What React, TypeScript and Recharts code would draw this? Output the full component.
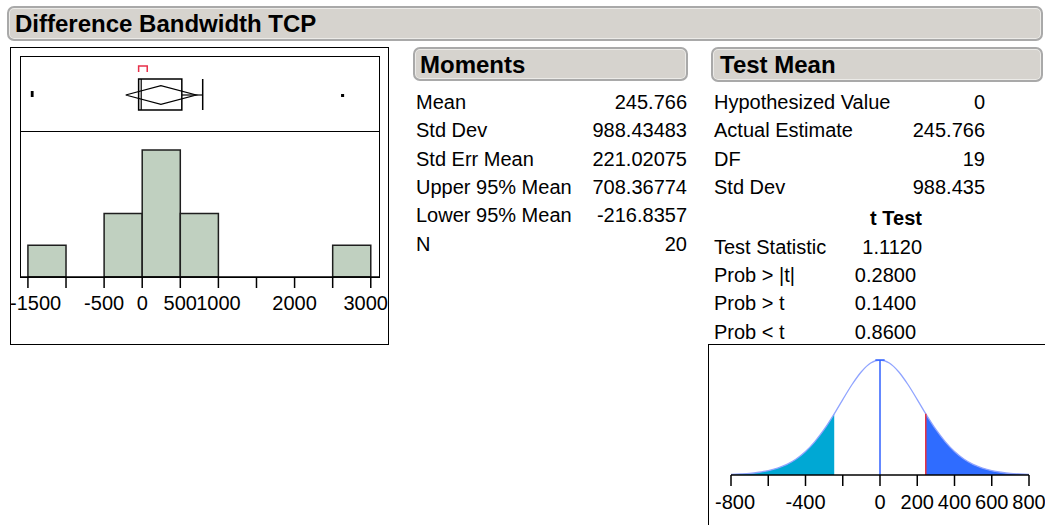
import React from "react";
import { ComposedChart, Line, Area, XAxis, YAxis, ReferenceArea, ReferenceLine, Scatter } from "recharts";

const FONT = '"Liberation Sans", Arial, sans-serif';

// report text
const reportTitle = "Difference Bandwidth TCP";
const momentLabels = ["Mean", "Std Dev", "Std Err Mean", "Upper 95% Mean", "Lower 95% Mean", "N"];
const momentValues = ["245.766", "988.43483", "221.02075", "708.36774", "-216.8357", "20"];
const testLabels = ["Hypothesized Value", "Actual Estimate", "DF", "Std Dev"];
const testValues = ["0", "245.766", "19", "988.435"];
const tTestLabels = ["Test Statistic", "Prob > |t|", "Prob > t", "Prob < t"];
const tTestValues = ["1.1120", "0.2800", "0.1400", "0.8600"];

// histogram bins (width 500)
const binStart = [-1500, -500, 0, 500, 2500];
const binEnd = [-1000, 0, 500, 1000, 3000];
const binCount = [2, 4, 8, 4, 2];
const histTicks = [-1500, -1000, -500, 0, 500, 1000, 1500, 2000, 2500, 3000];
const histTickLabels = [-1500, -500, 0, 500, 1000, 2000, 3000];

// box plot
const q1 = -47;
const median = -13;
const q3 = 520;
const upperWhisker = 794;
const mean = 245.766;
const lower95 = -216.8357;
const upper95 = 708.36774;
const shortestHalf = [-47, 66];
const outlierX = [-1444, -1444, 2631, 2631];
const outlierY = [2.5, -0.5, -0.5, -0.5];

// t distribution (relative density) under H0
const tX = [-800, -750, -700, -650, -600, -550, -500, -450, -400, -350, -300, -245.766, -200, -150, -100, -50, 0,
  50, 100, 150, 200, 245.766, 300, 350, 400, 450, 500, 550, 600, 650, 700, 750, 800];
const tY = [0.005, 0.009, 0.014, 0.024, 0.038, 0.06, 0.092, 0.139, 0.204, 0.29, 0.396, 0.532, 0.656, 0.787, 0.898, 0.974, 1,
  0.974, 0.898, 0.787, 0.656, 0.532, 0.396, 0.29, 0.204, 0.139, 0.092, 0.06, 0.038, 0.024, 0.014, 0.009, 0.005];
const tTicks = [-800, -600, -400, -200, 0, 200, 400, 600, 800];
const tTickLabels = [-800, -400, 0, 200, 400, 600, 800];

const histDomain = [-1604, 3108];

function HeaderBar({ left, top, width, height, text, textLeft }) {
  return (
    <>
      <div style={{
        position: "absolute", left, top, width, height, boxSizing: "border-box",
        background: "#d6d3ce", border: "2px solid #a9a9a9", borderRadius: 7,
        boxShadow: "inset 0 0 0 1px #ecebe8",
      }} />
      <div style={{
        position: "absolute", left: textLeft, top: top + height / 2 - 11.5, fontSize: 24, lineHeight: "24px",
        fontWeight: "bold", whiteSpace: "nowrap",
      }}>{text}</div>
    </>
  );
}

function Row({ left, top, width, label, value, bold }) {
  return (
    <div style={{
      position: "absolute", left, top, width, height: 28, lineHeight: "28px", fontSize: 20,
      display: "flex", justifyContent: "space-between", whiteSpace: "nowrap", fontWeight: bold ? "bold" : "normal",
    }}>
      <span>{label}</span>
      <span>{value}</span>
    </div>
  );
}

// JMP keeps the end labels inside the frame
function makeTick(labels, minX, maxX, gap) {
  return function AxisTick(props) {
    const { x, y, payload } = props;
    const v = payload.value;
    if (!labels.includes(v)) return null;
    const s = String(v);
    const w = s.length * 11.1 - (s[0] === "-" ? 4.4 : 0);
    let tx = x;
    let anchor = "middle";
    if (x - w / 2 < minX) { tx = minX; anchor = "start"; }
    else if (x + w / 2 > maxX) { tx = maxX; anchor = "end"; }
    return (
      <text x={tx} y={y + gap} dy="0.71em" textAnchor={anchor} fontSize={20} fill="#000" fontFamily={FONT}>{s}</text>
    );
  };
}

export default function App() {
  const histData = binStart.map((s, i) => ({ x: (s + binEnd[i]) / 2, y: binCount[i] }));
  const diamond = [
    { x: lower95, y: 0 }, { x: mean, y: 9.3 }, { x: upper95, y: 0 }, { x: mean, y: -9.3 }, { x: lower95, y: 0 },
  ];
  const bracket = [
    { x: shortestHalf[0], y: 23 }, { x: shortestHalf[0], y: 29 }, { x: shortestHalf[1], y: 29 }, { x: shortestHalf[1], y: 23 },
  ];
  const outliers = outlierX.map((x, i) => ({ x, y: outlierY[i] }));
  const tData = tX.map((x, i) => ({
    x,
    y: tY[i],
    left: x <= -mean ? tY[i] : null,
    right: x >= mean ? tY[i] : null,
  }));
  const estHeight = tY[tX.indexOf(mean)];

  return (
    <div style={{
      position: "absolute", left: 0, top: 0, width: 1045, height: 525, overflow: "hidden",
      background: "#fff", fontFamily: FONT, color: "#000",
    }}>
      <HeaderBar left={7} top={6} width={1036} height={35} text={reportTitle} textLeft={15} />

      {/* distribution panel */}
      <div style={{ position: "absolute", left: 10, top: 47, width: 379, height: 298, border: "1px solid #000", boxSizing: "border-box" }} />
      <div style={{ position: "absolute", left: 20, top: 56, width: 360, height: 222, border: "1px solid #000", boxSizing: "border-box" }} />
      <div style={{ position: "absolute", left: 20, top: 131, width: 360, height: 1, background: "#000" }} />

      <div style={{ position: "absolute", left: 0, top: 56 }}>
        <ComposedChart width={400} height={75} margin={{ top: 0, right: 21, bottom: 0, left: 20 }}>
          <XAxis type="number" dataKey="x" domain={histDomain} hide allowDataOverflow />
          <YAxis type="number" domain={[-36, 39]} hide allowDataOverflow />
          <ReferenceArea x1={q1} x2={q3} y1={-15} y2={16} fill="none" stroke="#000" strokeWidth={1.5} fillOpacity={0} />
          <ReferenceLine segment={[{ x: median, y: -15 }, { x: median, y: 16 }]} stroke="#000" strokeWidth={1.2} />
          <ReferenceLine segment={[{ x: q3, y: 0 }, { x: upperWhisker, y: 0 }]} stroke="#000" strokeWidth={1.2} />
          <ReferenceLine segment={[{ x: upperWhisker, y: -15 }, { x: upperWhisker, y: 16 }]} stroke="#000" strokeWidth={1.5} />
          <Line data={diamond} dataKey="y" type="linear" stroke="#000" strokeWidth={1.2} dot={false} isAnimationActive={false} />
          <Line data={bracket} dataKey="y" type="linear" stroke="#e8304a" strokeWidth={1.5} dot={false} isAnimationActive={false} />
          <Scatter data={outliers} dataKey="y" isAnimationActive={false}
            shape={(p) => <rect x={p.cx - 1.4} y={p.cy - 1.5} width={2.8} height={3} fill="#000" />} />
        </ComposedChart>
      </div>

      <div style={{ position: "absolute", left: 0, top: 131 }}>
        <ComposedChart width={400} height={190} data={histData} margin={{ top: 0, right: 21, bottom: 0, left: 20 }}>
          <XAxis type="number" dataKey="x" domain={histDomain} ticks={histTicks} interval={0} height={44}
            tickSize={11} allowDataOverflow
            axisLine={{ stroke: "#000", strokeWidth: 1.5 }} tickLine={{ stroke: "#000", strokeWidth: 1.5 }}
            tick={makeTick(histTickLabels, 10, 388, 6)} />
          <YAxis type="number" domain={[0, 9.2]} hide allowDataOverflow />
          {binStart.map((s, i) => (
            <ReferenceArea key={s} x1={s} x2={binEnd[i]} y1={0} y2={binCount[i]}
              fill="#c0d0c0" fillOpacity={1} stroke="#1e1e1e" strokeWidth={1.5} />
          ))}
          <Line dataKey="y" stroke="none" dot={false} isAnimationActive={false} />
        </ComposedChart>
      </div>

      {/* moments */}
      <HeaderBar left={413} top={47} width={275} height={34} text="Moments" textLeft={420} />
      {momentLabels.map((l, i) => (
        <Row key={l} left={416} top={88 + i * 28.3} width={271} label={l} value={momentValues[i]} />
      ))}

      {/* test mean */}
      <HeaderBar left={711} top={47} width={332} height={35} text="Test Mean" textLeft={720} />
      {testLabels.map((l, i) => (
        <Row key={l} left={714} top={88 + i * 28.3} width={271} label={l} value={testValues[i]} />
      ))}
      <div style={{ position: "absolute", left: 846, top: 204, width: 100, textAlign: "center", fontSize: 20, lineHeight: "28px", fontWeight: "bold" }}>t Test</div>
      {tTestLabels.map((l, i) => (
        <Row key={l} left={714} top={233 + i * 28.2} width={i === 0 ? 208 : 202} label={l} value={tTestValues[i]} />
      ))}

      {/* t distribution plot */}
      <div style={{ position: "absolute", left: 708, top: 344, width: 400, height: 200, borderTop: "1.5px solid #000", borderLeft: "1.5px solid #000" }} />
      <div style={{ position: "absolute", left: 700, top: 345 }}>
        <ComposedChart width={345} height={180} data={tData} margin={{ top: 15, right: 16, bottom: 0, left: 31 }}>
          <XAxis type="number" dataKey="x" domain={[-800, 800]} ticks={tTicks} interval={0} height={50}
            tickSize={11} allowDataOverflow
            axisLine={{ stroke: "#000", strokeWidth: 1.5 }} tickLine={{ stroke: "#000", strokeWidth: 1.5 }}
            tick={makeTick(tTickLabels, 15, 400, 7)} />
          <YAxis type="number" domain={[0, 1]} hide allowDataOverflow />
          <Area dataKey="left" type="monotone" fill="#00a8d4" fillOpacity={1} stroke="none" isAnimationActive={false} />
          <Area dataKey="right" type="monotone" fill="#2f6cff" fillOpacity={1} stroke="none" isAnimationActive={false} />
          <Line dataKey="y" type="monotone" stroke="#90a4ff" strokeWidth={1.3} dot={false} isAnimationActive={false} />
          <ReferenceLine x={0} stroke="#3060ff" strokeWidth={1.5} />
          <ReferenceLine segment={[{ x: -25, y: 1 }, { x: 25, y: 1 }]} stroke="#3060ff" strokeWidth={1.5} />
          <ReferenceLine segment={[{ x: mean, y: 0 }, { x: mean, y: estHeight }]} stroke="#e83040" strokeWidth={1.5} />
        </ComposedChart>
      </div>
    </div>
  );
}
